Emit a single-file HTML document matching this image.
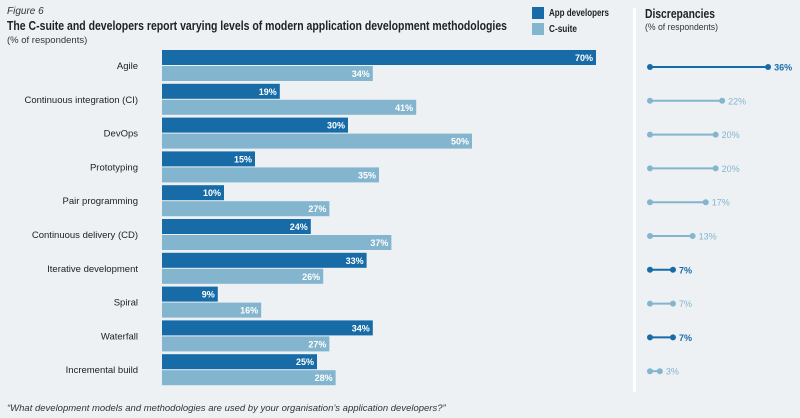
<!DOCTYPE html>
<html><head><meta charset="utf-8"><style>
body{margin:0;background:#edf1f4;font-family:"Liberation Sans",sans-serif;}
svg{display:block}
</style></head><body>
<svg id="c" width="800" height="418">
<rect width="800" height="418" fill="#edf1f4"/>
<text x="7" y="14" font-size="10" font-style="italic" fill="#333">Figure 6</text>
<text x="7" y="30" font-size="13" font-weight="bold" fill="#222" textLength="500" lengthAdjust="spacingAndGlyphs">The C-suite and developers report varying levels of modern application development methodologies</text>
<text x="7" y="43" font-size="9.5" fill="#333">(% of respondents)</text>
<rect x="532" y="7" width="12" height="12" fill="#176ca8"/>
<text x="549" y="16" font-size="10" font-weight="bold" fill="#222" textLength="60" lengthAdjust="spacingAndGlyphs">App developers</text>
<rect x="532" y="23" width="12" height="12" fill="#84b5cf"/>
<text x="549" y="32" font-size="10" font-weight="bold" fill="#222" textLength="28" lengthAdjust="spacingAndGlyphs">C-suite</text>
<rect x="633" y="8" width="3" height="384" fill="#fff"/>
<text x="645" y="18" font-size="13" font-weight="bold" fill="#222" textLength="70" lengthAdjust="spacingAndGlyphs">Discrepancies</text>
<text x="645" y="30" font-size="9.5" fill="#333" textLength="73" lengthAdjust="spacingAndGlyphs">(% of respondents)</text>
<text x="7" y="411" font-size="9.5" font-style="italic" fill="#333">“What development models and methodologies are used by your organisation’s application developers?”</text>
<g id="bars"></g><g id="disc"></g>
</svg>
<script>
const categories=["Agile","Continuous integration (CI)","DevOps","Prototyping","Pair programming","Continuous delivery (CD)","Iterative development","Spiral","Waterfall","Incremental build"];
const devValues=[70,19,30,15,10,24,33,9,34,25];
const csuiteValues=[34,41,50,35,27,37,26,16,27,28];
const ns="http://www.w3.org/2000/svg";
const DARK="#176ca8",LIGHT="#84b5cf";
const x=v=>162+v*6.2;
const rowY=i=>50+i*33.8;
const dx=v=>650+v*3.28;
function mk(t,a,p){const e=document.createElementNS(ns,t);for(const k in a)e.setAttribute(k,a[k]);p.appendChild(e);return e;}
const bars=document.getElementById('bars'),disc=document.getElementById('disc');
categories.forEach((c,i)=>{
 const y=rowY(i);
 const lab=mk('text',{x:138,y:y+19,'font-size':9.5,'text-anchor':'end',fill:'#222'},bars);lab.textContent=c;
 
 
 const b1=mk('rect',{x:162,y:y,width:x(devValues[i])-162,height:15,fill:DARK},bars);
 
 
 const t1=mk('text',{x:x(devValues[i])-3,y:y+11,'font-size':9,'font-weight':'bold','text-anchor':'end',fill:'#fff'},bars);t1.textContent=devValues[i]+'%';
 
 
 const b2=mk('rect',{x:162,y:y+16,width:x(csuiteValues[i])-162,height:15,fill:LIGHT},bars);
 
 
 const t2=mk('text',{x:x(csuiteValues[i])-3,y:y+27,'font-size':9,'font-weight':'bold','text-anchor':'end',fill:'#fff'},bars);t2.textContent=csuiteValues[i]+'%';
 
 
 const d=Math.abs(devValues[i]-csuiteValues[i]);
 const col=devValues[i]>csuiteValues[i]?DARK:LIGHT;
 const cy=y+17;
 const g=mk('g',{},disc);
 
 
 mk('line',{x1:dx(0),x2:dx(d),y1:cy,y2:cy,stroke:col,'stroke-width':2},g);
 mk('circle',{cx:dx(0),cy:cy,r:3,fill:col},g);
 mk('circle',{cx:dx(d),cy:cy,r:3,fill:col},g);
 const t=mk('text',{x:dx(d)+6,y:cy+3.5,'font-size':9,'font-weight':col==DARK?'bold':'normal',fill:col},g);t.textContent=d+'%';
});
</script>
</body></html>
